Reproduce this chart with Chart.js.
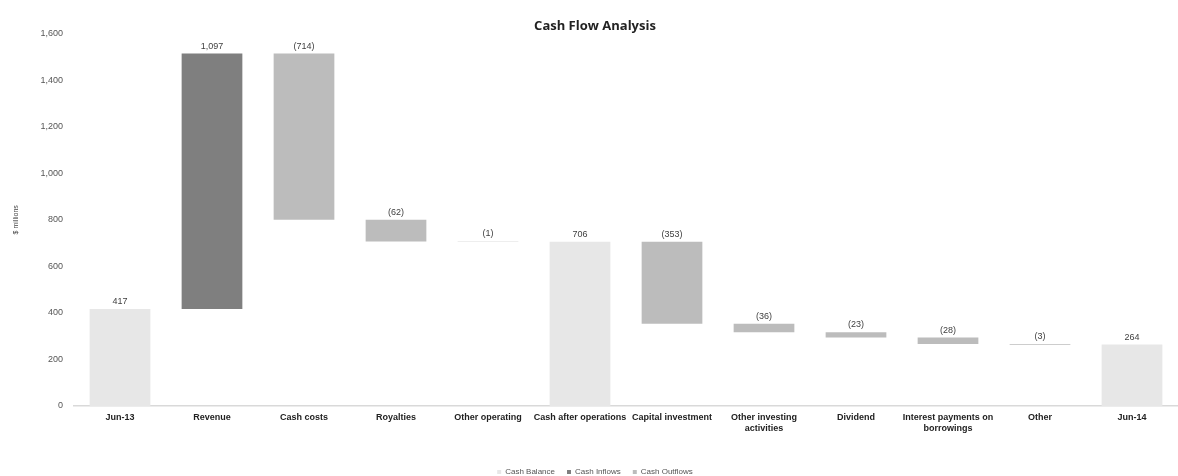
<!DOCTYPE html>
<html>
<head>
<meta charset="utf-8">
<script src="https://cdn.jsdelivr.net/npm/chart.js@4/dist/chart.umd.min.js"></script>
<style>
  html, body { margin: 0; padding: 0; background: #fff; }
  #wrap { width: 1178px; height: 476px; }
</style>
</head>
<body>
<div id="wrap"><canvas id="cashChart"></canvas></div>
<script>
// Waterfall data ($ millions)
const categories = ['Jun-13', 'Revenue', 'Cash costs', 'Royalties', 'Other operating',
    'Cash after operations', 'Capital investment', ['Other investing', 'activities'],
    'Dividend', ['Interest payments on', 'borrowings'], 'Other', 'Jun-14'];
// movement per step, balances are totals
const movements = [417, 1097, -714, -93, -1, 706, -353, -36, -23, -28, -3, 264];
const kinds = ['balance', 'inflow', 'outflow', 'outflow', 'outflow', 'balance',
    'outflow', 'outflow', 'outflow', 'outflow', 'outflow', 'balance'];
const valueLabels = ['417', '1,097', '(714)', '(62)', '(1)', '706', '(353)', '(36)', '(23)', '(28)', '(3)', '264'];
const yTicks = [0, 200, 400, 600, 800, 1000, 1200, 1400, 1600];

// build floating bars
const balanceData = [], inflowData = [], outflowData = [];
let running = 0;
movements.forEach((m, i) => {
    let bar;
    if (kinds[i] === 'balance') {
        running = m;
        bar = [0, m];
    } else {
        bar = [running, running + m];
        running += m;
    }
    balanceData.push(kinds[i] === 'balance' ? bar : null);
    inflowData.push(kinds[i] === 'inflow' ? bar : null);
    outflowData.push(kinds[i] === 'outflow' ? bar : null);
});

const labelPlugin = {
    id: 'valueLabels',
    afterDatasetsDraw(chart) {
        const ctx = chart.ctx;
        ctx.save();
        ctx.font = '9px "Liberation Sans", Arial, sans-serif';
        ctx.fillStyle = '#404040';
        ctx.textAlign = 'center';
        ctx.textBaseline = 'bottom';
        chart.data.datasets.forEach((ds, di) => {
            const meta = chart.getDatasetMeta(di);
            meta.data.forEach((bar, i) => {
                if (!ds.data[i]) return;
                const top = Math.min(bar.y, bar.base);
                ctx.fillText(valueLabels[i], bar.x, top - 3);
            });
        });
        ctx.restore();
    }
};

new Chart(document.getElementById('cashChart'), {
    type: 'bar',
    data: {
        labels: categories,
        datasets: [
            { label: 'Cash Balance', data: balanceData, backgroundColor: '#e7e7e7' },
            { label: 'Cash Inflows', data: inflowData, backgroundColor: '#7f7f7f' },
            { label: 'Cash Outflows', data: outflowData, backgroundColor: '#bcbcbc' }
        ]
    },
    options: {
        responsive: true,
        maintainAspectRatio: false,
        animation: false,
        categoryPercentage: 1,
        barPercentage: 0.66,
        layout: { padding: { top: 14, right: 0, bottom: -10, left: 12 } },
        plugins: {
            title: {
                display: true,
                text: 'Cash Flow Analysis',
                color: '#222',
                font: { size: 13, weight: 'bold', family: '"Open Sans", sans-serif' },
                padding: { top: 4, bottom: 0 }
            },
            legend: {
                position: 'bottom',
                labels: {
                    boxWidth: 4,
                    boxHeight: 4,
                    padding: 12,
                    color: '#555',
                    font: { size: 8, family: '"Liberation Sans", Arial, sans-serif' }
                }
            },
            tooltip: { enabled: false }
        },
        scales: {
            x: {
                stacked: true,
                grid: { display: false, drawTicks: false },
                border: { color: '#d9d9d9', width: 1.5 },
                ticks: {
                    color: '#222',
                    padding: 6,
                    maxRotation: 0,
                    autoSkip: false,
                    font: { size: 9, weight: 'bold', family: '"Liberation Sans", Arial, sans-serif' }
                },
                afterFit(scale) { scale.height = 50; }
            },
            y: {
                min: 0,
                max: 1600,
                afterBuildTicks(scale) { scale.ticks = yTicks.map(v => ({ value: v })); },
                grid: { display: false, drawTicks: false },
                border: { display: false },
                title: {
                    display: true,
                    text: '$ millions',
                    color: '#444',
                    font: { size: 7, family: '"Liberation Sans", Arial, sans-serif' },
                    padding: 0
                },
                ticks: {
                    color: '#555',
                    padding: 11,
                    font: { size: 9, family: '"Liberation Sans", Arial, sans-serif' },
                    callback: v => v.toLocaleString('en-US')
                },
                afterFit(scale) { scale.width = 62; }
            }
        }
    },
    plugins: [labelPlugin]
});
</script>
</body>
</html>
